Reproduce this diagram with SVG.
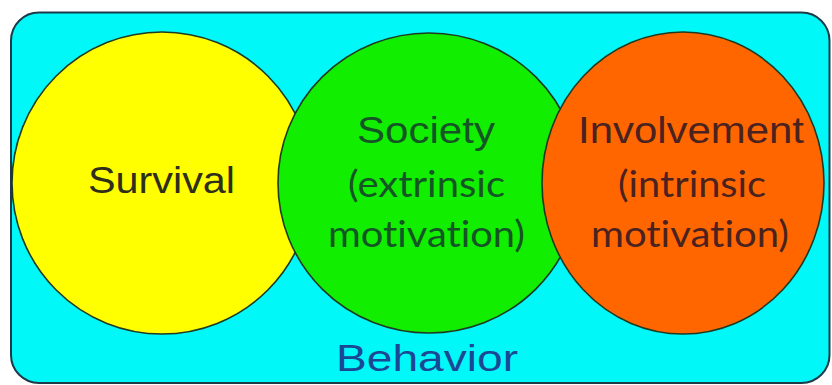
<svg xmlns="http://www.w3.org/2000/svg" width="832" height="385" viewBox="0 0 832 385">
  <style>
    .bg { fill: #00F8F8; stroke: #1d3a48; stroke-width: 2; }
    .circle { stroke: #1e3a22; stroke-width: 1.6; }
    .t1 { font-family: "Liberation Sans", Arial, sans-serif; font-size: 37.5px; }
    .t2 { font-family: Lato, "Open Sans", sans-serif; font-size: 36px; font-variant-ligatures: none; font-feature-settings: "liga" 0; }
  </style>
  <rect width="832" height="385" fill="#ffffff"/>
  <g id="behavior">
    <rect class="bg" x="11" y="12.5" width="818.5" height="370.5" rx="28" ry="28"/>
  </g>
  <g id="survival">
    <ellipse class="circle" cx="162" cy="183" rx="150" ry="151" fill="#FFFF00"/>
    <text class="t1" x="88" y="193" textLength="147" lengthAdjust="spacingAndGlyphs" fill="#2e2e1a">Survival</text>
  </g>
  <g id="society">
    <ellipse class="circle" cx="429" cy="183" rx="151" ry="150" fill="#11EE00"/>
    <text class="t1" x="357" y="143" textLength="138" lengthAdjust="spacingAndGlyphs" fill="#145526">Society</text>
    <text class="t2" x="348" y="197" textLength="157" lengthAdjust="spacingAndGlyphs" fill="#145526">(extrinsic</text>
    <text class="t2" x="328" y="247" textLength="197" lengthAdjust="spacingAndGlyphs" fill="#145526">motivation)</text>
  </g>
  <g id="involvement">
    <ellipse class="circle" cx="683" cy="183" rx="141" ry="151" fill="#FF6600"/>
    <text class="t1" x="578" y="143" textLength="226" lengthAdjust="spacingAndGlyphs" fill="#4a2220">Involvement</text>
    <text class="t2" x="618" y="197" textLength="148" lengthAdjust="spacingAndGlyphs" fill="#4a2220">(intrinsic</text>
    <text class="t2" x="591" y="247" textLength="198" lengthAdjust="spacingAndGlyphs" fill="#4a2220">motivation)</text>
  </g>
  <g id="behavior-label">
    <text class="t1" x="336" y="371" textLength="182" lengthAdjust="spacingAndGlyphs" fill="#1a4894">Behavior</text>
  </g>
  <g id="connectors"></g>
</svg>
